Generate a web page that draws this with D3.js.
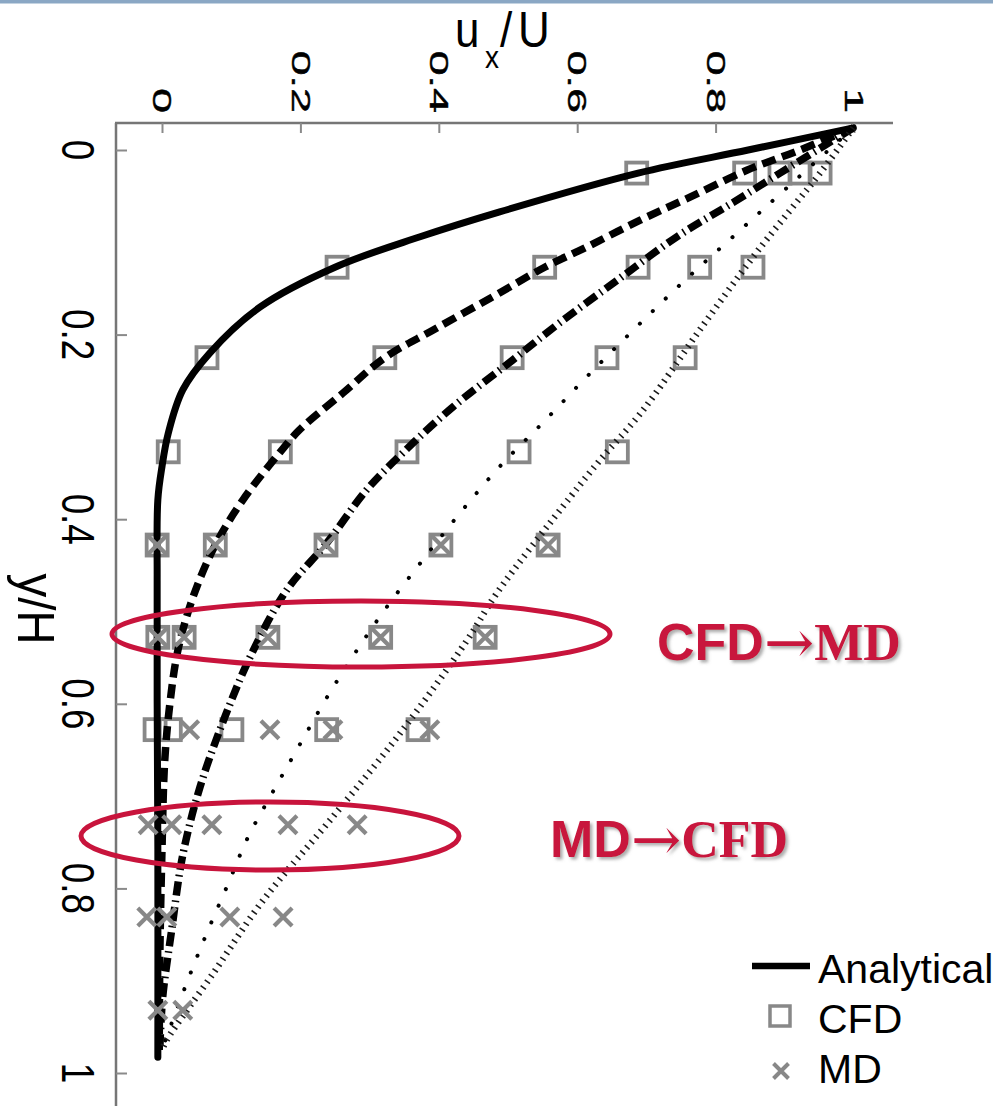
<!DOCTYPE html>
<html>
<head>
<meta charset="utf-8">
<script src="https://cdn.jsdelivr.net/npm/d3@7"></script>
<style>
  html, body { margin: 0; padding: 0; background: #fff; }
  svg { display: block; }
</style>
</head>
<body>
<div id="chart"></div>
<script>
// Axis ticks
const uTicks = [0, 0.2, 0.4, 0.6, 0.8, 1];
const uTickLabels = ['0', '0.2', '0.4', '0.6', '0.8', '1'];
const yTicks = [0, 0.2, 0.4, 0.6, 0.8, 1];
const yTickLabels = ['0', '0.2', '0.4', '0.6', '0.8', '1'];

// Analytical profiles at five times, points are [u_x/U, y/H]
const profile1 = [[0.999, -0.024], [0.847, 0.000], [0.688, 0.025], [0.488, 0.067], [0.373, 0.094],
  [0.250, 0.127], [0.142, 0.170], [0.069, 0.220], [0.030, 0.260], [0.009, 0.307], [0.000, 0.343],
  [-0.006, 0.379], [-0.007, 0.466], [-0.007, 0.596], [-0.006, 0.758], [-0.006, 0.983]];
const profile2 = [[0.999, -0.024], [0.922, 0.000], [0.845, 0.022], [0.763, 0.051], [0.691, 0.076],
  [0.614, 0.105], [0.553, 0.127], [0.478, 0.159], [0.392, 0.195], [0.322, 0.225], [0.262, 0.263],
  [0.199, 0.303], [0.171, 0.327], [0.117, 0.379], [0.077, 0.428], [0.045, 0.484], [0.023, 0.542],
  [0.012, 0.596], [0.004, 0.661], [0.000, 0.758], [-0.003, 0.867], [-0.004, 0.975]];
const profile3 = [[0.999, -0.024], [0.893, 0.025], [0.825, 0.057], [0.744, 0.094], [0.658, 0.141],
  [0.575, 0.187], [0.506, 0.228], [0.421, 0.278], [0.355, 0.323], [0.296, 0.368], [0.238, 0.426],
  [0.180, 0.477], [0.130, 0.545], [0.091, 0.614], [0.055, 0.690], [0.030, 0.764], [0.014, 0.845],
  [0.001, 0.918], [-0.003, 0.970]];
const profile4 = [[0.999, -0.024], [0.903, 0.041], [0.828, 0.092], [0.753, 0.143], [0.684, 0.193],
  [0.616, 0.244], [0.551, 0.295], [0.488, 0.343], [0.431, 0.393], [0.377, 0.444], [0.325, 0.495],
  [0.279, 0.545], [0.236, 0.596], [0.197, 0.647], [0.159, 0.697], [0.124, 0.745], [0.095, 0.796],
  [0.065, 0.848], [0.038, 0.898], [0.012, 0.950], [0.001, 0.973]];
const profile5 = [[0.999, -0.024], [0.951, 0.025], [0.908, 0.065], [0.854, 0.116], [0.777, 0.195],
  [0.695, 0.282], [0.633, 0.336], [0.590, 0.376], [0.484, 0.480], [0.441, 0.531], [0.344, 0.632],
  [0.243, 0.726], [0.146, 0.813], [0.074, 0.892], [0.007, 0.964], [0.000, 0.975]];

// CFD cell values (squares): one row of y/H, five u_x/U values per row
const cfdRows = [0.025, 0.127, 0.225, 0.327, 0.428, 0.528, 0.628];
const cfdValues = [
  [0.686, 0.842, 0.893, 0.922, 0.951],
  [0.253, 0.553, 0.688, 0.777, 0.854],
  [0.065, 0.322, 0.506, 0.643, 0.756],
  [0.009, 0.171, 0.354, 0.516, 0.658],
  [-0.007, 0.077, 0.237, 0.403, 0.558],
  [-0.006, 0.032, 0.153, 0.316, 0.467],
  [-0.010, 0.012, 0.101, 0.238, 0.370]
];

// MD bin values (crosses)
const mdRows = [0.428, 0.528, 0.628, 0.731, 0.831, 0.932];
const mdValues = [
  [-0.007, 0.077, 0.237, 0.403, 0.558],
  [-0.006, 0.032, 0.153, 0.316, 0.467],
  [0.040, 0.156, 0.247, 0.387],
  [-0.020, 0.014, 0.072, 0.182, 0.282],
  [-0.022, 0.007, 0.098, 0.175],
  [-0.006, 0.030]
];

const legendLabels = ['Analytical', 'CFD', 'MD'];

const W = 993, H = 1106;
const sans = '"Liberation Sans", Arial, Helvetica, sans-serif';
const serif = '"Liberation Serif", "Times New Roman", serif';
const red = '#c8143c';
const markerGrey = '#888888';

const x = d3.scaleLinear().domain([0, 1]).range([162, 854]);
const y = d3.scaleLinear().domain([0, 1]).range([150, 1073]);

const svg = d3.select('#chart').append('svg')
  .attr('width', W)
  .attr('height', H);

const defs = svg.append('defs');
const shadow = defs.append('filter').attr('id', 'shadow')
  .attr('x', '-10%').attr('y', '-20%').attr('width', '130%').attr('height', '150%');
shadow.append('feDropShadow')
  .attr('dx', 2.5).attr('dy', 2.5).attr('stdDeviation', 1.5)
  .attr('flood-color', '#777').attr('flood-opacity', 0.6);

// thin band at the very top of the slide
svg.append('rect').attr('x', 0).attr('y', 0).attr('width', W).attr('height', 3.5)
  .attr('fill', '#8aa7c4');

// frame lines (top = u axis, left = y axis)
const axisTopY = 123, axisLeftX = 116;
svg.append('line')
  .attr('x1', axisLeftX - 1).attr('x2', x(1) + 39)
  .attr('y1', axisTopY).attr('y2', axisTopY)
  .attr('stroke', '#767676').attr('stroke-width', 2.5);
svg.append('line')
  .attr('x1', axisLeftX).attr('x2', axisLeftX)
  .attr('y1', axisTopY).attr('y2', H)
  .attr('stroke', '#767676').attr('stroke-width', 2.5);

// ticks through d3 axes (labels drawn separately, rotated)
const topAxis = svg.append('g')
  .attr('transform', `translate(0,${axisTopY})`)
  .call(d3.axisTop(x).tickValues(uTicks).tickSize(-10).tickFormat(''));
const leftAxis = svg.append('g')
  .attr('transform', `translate(${axisLeftX},0)`)
  .call(d3.axisLeft(y).tickValues(yTicks).tickSize(-11).tickFormat(''));
[topAxis, leftAxis].forEach(g => {
  g.select('.domain').remove();
  g.selectAll('line').attr('stroke', '#8a8a8a').attr('stroke-width', 2);
});

// rotated tick labels
svg.append('g').selectAll('text')
  .data(uTicks)
  .enter()
  .append('text')
  .attr('transform', d => `translate(${x(d)},113) rotate(90) scale(1.8,1)`)
  .attr('text-anchor', 'end')
  .attr('dy', '0.35em')
  .attr('font-family', sans)
  .attr('font-size', 25)
  .attr('stroke', '#000').attr('stroke-width', 0.4)
  .text((d, i) => uTickLabels[i]);

svg.append('g').selectAll('text')
  .data(yTicks)
  .enter()
  .append('text')
  .attr('transform', d => `translate(78,${y(d)}) rotate(90) scale(0.8,1)`)
  .attr('text-anchor', 'middle')
  .attr('dy', '0.35em')
  .attr('font-family', sans)
  .attr('font-size', 46)
  .text((d, i) => yTickLabels[i]);

// axis titles
svg.append('text')
  .attr('transform', 'translate(36,609) rotate(90) scale(0.95,1.04)')
  .attr('text-anchor', 'middle')
  .attr('dy', '0.35em')
  .attr('font-family', sans)
  .attr('font-size', 50)
  .text('y/H');

const uTitle = svg.append('text')
  .attr('transform', 'translate(455,47) scale(1,1.15)')
  .attr('font-family', sans)
  .attr('font-size', 44);
uTitle.append('tspan').attr('x', 0).attr('y', 0).text('u');
uTitle.append('tspan').attr('x', 30).attr('y', 18.5).attr('font-size', 28).text('x');
uTitle.append('tspan').attr('x', 45).attr('y', 0).text('/');
uTitle.append('tspan').attr('x', 63).attr('y', 0).text('U');

// CFD squares (below the lines)
const sq = 21;
const cfdPoints = [];
cfdRows.forEach((r, i) => cfdValues[i].forEach(v => cfdPoints.push([v, r])));
svg.append('g').selectAll('rect')
  .data(cfdPoints)
  .enter()
  .append('rect')
  .attr('x', d => x(d[0]) - sq / 2)
  .attr('y', d => y(d[1]) - sq / 2)
  .attr('width', sq)
  .attr('height', sq)
  .attr('fill', 'none')
  .attr('stroke', markerGrey)
  .attr('stroke-width', 3.8);

// analytical lines
const line = d3.line()
  .x(d => x(d[0]))
  .y(d => y(d[1]))
  .curve(d3.curveCatmullRom.alpha(0.5));

const profiles = [
  { pts: profile1, width: 7, dash: null, cap: 'round', color: '#000' },
  { pts: profile2, width: 7.5, dash: '14,7', cap: 'butt', color: '#000' },
  { pts: profile3, width: 7.5, dash: '14,5,1.6,5', cap: 'butt', color: '#000' },
  { pts: profile4, width: 4, dash: '0.1,18', cap: 'round', color: '#000' },
  { pts: profile5, width: 6.5, dash: '1.6,5.4', cap: 'butt', color: '#1a1a1a' }
];

svg.append('g').selectAll('path')
  .data(profiles)
  .enter()
  .append('path')
  .attr('d', d => line(d.pts))
  .attr('fill', 'none')
  .attr('stroke', d => d.color)
  .attr('stroke-width', d => d.width)
  .attr('stroke-dasharray', d => d.dash)
  .attr('stroke-linecap', d => d.cap)
  .attr('stroke-linejoin', 'round');

// MD crosses (on top)
const cr = 9;
const crossPath = (cx, cy, s) => `M${cx - s},${cy - s}L${cx + s},${cy + s}M${cx - s},${cy + s}L${cx + s},${cy - s}`;
const mdPoints = [];
mdRows.forEach((r, i) => mdValues[i].forEach(v => mdPoints.push([v, r])));
svg.append('g').selectAll('path')
  .data(mdPoints)
  .enter()
  .append('path')
  .attr('d', d => crossPath(x(d[0]), y(d[1]), cr))
  .attr('fill', 'none')
  .attr('stroke', markerGrey)
  .attr('stroke-width', 4.2);

// legend
const legend = svg.append('g').attr('transform', 'translate(752,0)');
legend.append('line')
  .attr('x1', 0).attr('x2', 58).attr('y1', 966).attr('y2', 966)
  .attr('stroke', '#000').attr('stroke-width', 6.5);
legend.append('rect')
  .attr('x', 28 - 10).attr('y', 1016 - 10).attr('width', 20).attr('height', 20)
  .attr('fill', 'none').attr('stroke', markerGrey).attr('stroke-width', 3.5);
legend.append('path')
  .attr('d', crossPath(29, 1071, 7.5))
  .attr('fill', 'none').attr('stroke', markerGrey).attr('stroke-width', 4);
legend.selectAll('text')
  .data(legendLabels)
  .enter()
  .append('text')
  .attr('x', 66)
  .attr('y', (d, i) => 983 + i * 50)
  .attr('font-family', sans)
  .attr('font-size', 41)
  .text(d => d);

// red annotations
const notes = svg.append('g');
notes.append('ellipse')
  .attr('cx', 361).attr('cy', 634).attr('rx', 249).attr('ry', 33)
  .attr('fill', 'none').attr('stroke', red).attr('stroke-width', 5);
notes.append('ellipse')
  .attr('cx', 270).attr('cy', 836).attr('rx', 189).attr('ry', 34)
  .attr('fill', 'none').attr('stroke', red).attr('stroke-width', 5);

const arrowFont = '"DejaVu Serif", "Liberation Serif", serif';
const note1 = notes.append('text')
  .attr('x', 657).attr('y', 660)
  .attr('fill', red).attr('font-size', 52).attr('font-weight', 'bold')
  .attr('filter', 'url(#shadow)');
note1.append('tspan').attr('font-family', sans).text('CFD');
note1.append('tspan').attr('font-family', arrowFont).attr('font-weight', 'normal')
  .attr('font-size', 60).attr('dy', 3).text('\u2192');
note1.append('tspan').attr('font-family', serif).attr('dy', -3).text('MD');

const note2 = notes.append('text')
  .attr('x', 550).attr('y', 857)
  .attr('fill', red).attr('font-size', 52).attr('font-weight', 'bold')
  .attr('filter', 'url(#shadow)');
note2.append('tspan').attr('font-family', sans).text('MD');
note2.append('tspan').attr('font-family', arrowFont).attr('font-weight', 'normal')
  .attr('font-size', 60).attr('dy', 3).text('\u2192');
note2.append('tspan').attr('font-family', serif).attr('dy', -3).text('CFD');
</script>
</body>
</html>
